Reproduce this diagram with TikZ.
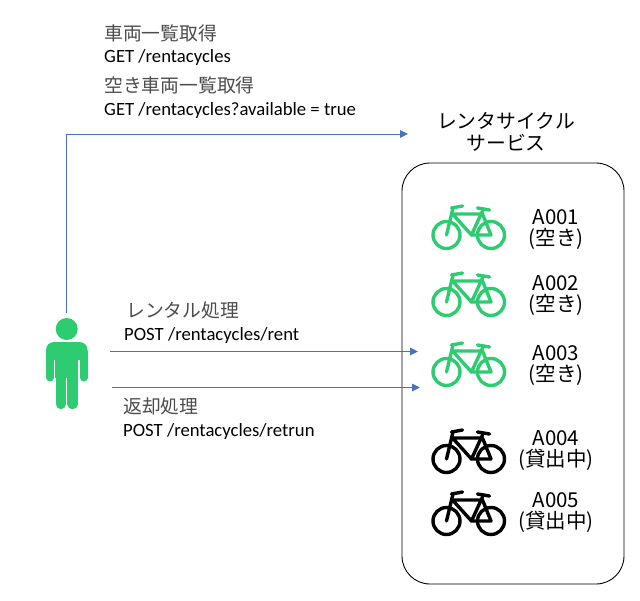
\documentclass[tikz,border=0pt]{standalone}
\usepackage{fontspec}
\setmainfont{Carlito}
\newfontfamily\cjk{Noto Sans CJK JP}
\usetikzlibrary{arrows.meta}
\definecolor{bikegreen}{HTML}{2ECC71}
\definecolor{flow}{HTML}{4472C4}
\tikzset{
  x=1pt,y=-1pt,
  lab/.style={anchor=west,inner sep=0pt,font=\fontsize{18.7}{18.7}\selectfont,text=black},
  jp/.style={anchor=west,inner sep=0pt,font=\cjk\fontsize{18.8}{19}\selectfont,text=black!70},
  idlab/.style={align=center,inner sep=0pt,font=\cjk\fontsize{20.5}{21}\selectfont,text=black},
  flowline/.style={draw=flow,line width=1pt,-{Triangle[length=8pt,width=7.5pt]}},
  bikeline/.style={line width=3.4pt,line cap=round,line join=round},
  bikepic/.pic={
    \draw[bikeline,draw=#1] (0,0) circle[radius=13.5];
    \draw[bikeline,draw=#1] (44.5,0) circle[radius=13.5];
    \draw[bikeline,draw=#1] (0,0) -- (6.5,-27) (5,-27) -- (16,-29);
    \draw[bikeline,draw=#1] (6,-21) -- (36,-21) -- (44.5,0) -- (25,0) -- (6,-21);
    \draw[bikeline,draw=#1] (25,0) -- (36,-24);
    \draw[bikeline,draw=#1] (31,-27) -- (43,-25);
  }
}
\begin{document}
\begin{tikzpicture}
\useasboundingbox (0,0) rectangle (640,600);
\fill[white] (0,0) rectangle (640,600);

% service box
\node[draw=black,line width=0.9pt,rounded corners=28pt,minimum width=222pt,minimum height=421pt,inner sep=0pt] (box) at (513,373.5) {};
\node[idlab,font=\cjk\fontsize{19.8}{22}\selectfont] (title) at (506,132) {レンタサイクル\\サービス};

% person
\fill[bikegreen] (66.7,329) circle[radius=11];
\fill[bikegreen,rounded corners=8pt] (46,360) -- (46,342) -- (87.5,342) -- (87.5,360) -- cycle;
\fill[bikegreen] (55,350) rectangle (78,378);
\draw[bikegreen,line width=8pt,line cap=round] (50,352) -- (50,377.5);
\draw[bikegreen,line width=8pt,line cap=round] (83.5,352) -- (83.5,377.5);
\draw[bikegreen,line width=10.5pt,line cap=round] (60.8,370) -- (60.8,404);
\draw[bikegreen,line width=10.5pt,line cap=round] (72.6,370) -- (72.6,404);
\coordinate (persontop) at (66,313);
\coordinate (personrent) at (110,351.5);
\coordinate (personret) at (112,387.5);
\coordinate (listend) at (408,134);
\coordinate (rentend) at (418,351.5);
\coordinate (retend) at (420,387.5);

% connectors
\draw[flowline] (persontop) |- (listend);
\draw[flowline] (personrent) -- (rentend);
\draw[flowline] (personret) -- (retend);

% labels
\node[jp] (t1) at (104,33) {車両一覧取得};
\node[lab] (t2) at (104,58) {GET /rentacycles};
\node[jp] (t3) at (104,85.5) {空き車両一覧取得};
\node[lab] (t4) at (104,111) {GET /rentacycles?available = true};
\node[jp] (t5) at (126,310) {レンタル処理};
\node[lab] (t6) at (124,336) {POST /rentacycles/rent};
\node[jp] (t7) at (123,406) {返却処理};
\node[lab] (t8) at (123,432) {POST /rentacycles/retrun};

% bikes
\pic at (446.5,235) {bikepic=bikegreen};
\pic at (446.5,302) {bikepic=bikegreen};
\pic at (446.5,372) {bikepic=bikegreen};
\pic at (446.5,459) {bikepic=black};
\pic at (446.5,521) {bikepic=black};

\node[idlab] (a1) at (556,229) {A001\\(空き)};
\node[idlab] (a2) at (556,295) {A002\\(空き)};
\node[idlab] (a3) at (556,365) {A003\\(空き)};
\node[idlab] (a4) at (556,450) {A004\\(貸出中)};
\node[idlab] (a5) at (556,512) {A005\\(貸出中)};
\end{tikzpicture}
\end{document}
